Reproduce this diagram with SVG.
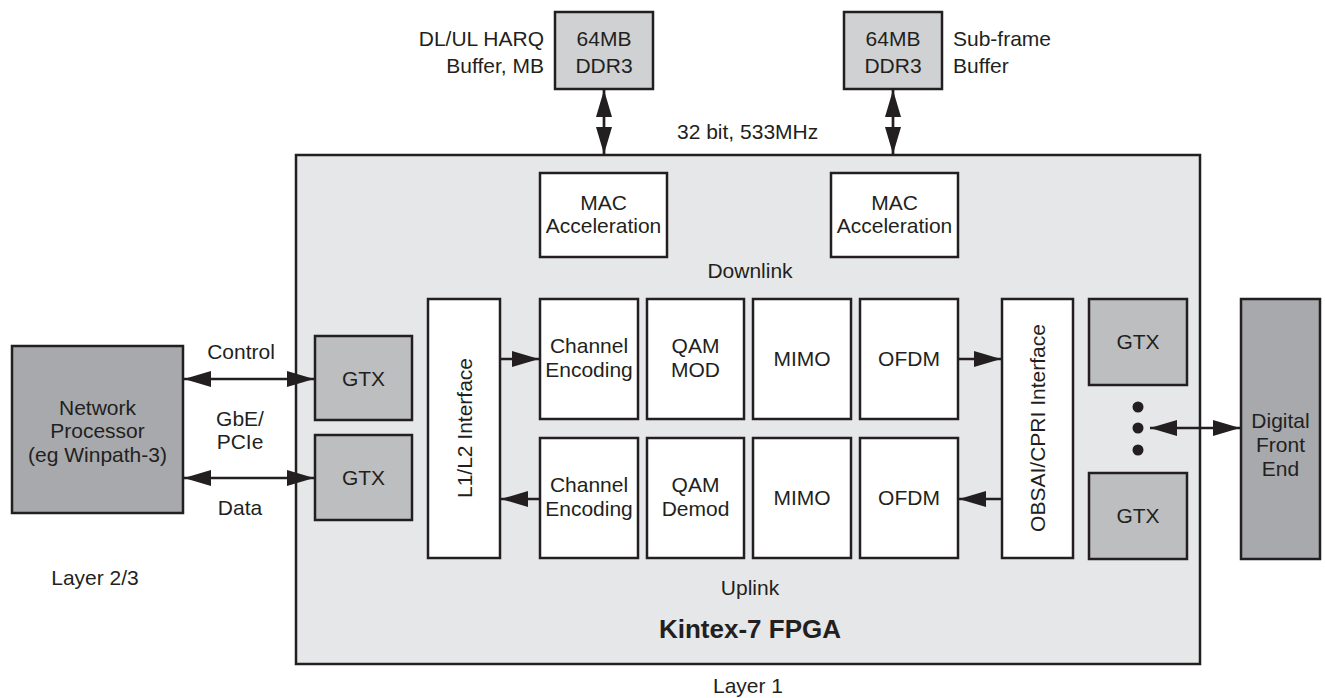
<svg xmlns="http://www.w3.org/2000/svg" width="1325" height="698" viewBox="0 0 1325 698">
<style>
text{font-family:"Liberation Sans",Arial,sans-serif;font-size:21px;fill:#231f20}
.c{text-anchor:middle}
.r{text-anchor:end}
.box{stroke:#231f20;stroke-width:2.5}
.w{fill:#ffffff}
.g1{fill:#bcbec0}
.g2{fill:#a7a9ac}
.g3{fill:#cfd1d3}
.fp{fill:#e6e7e8}
.ln{stroke:#231f20;stroke-width:2.7;fill:none}
</style>
<defs>
<marker id="ah" markerUnits="userSpaceOnUse" markerWidth="27" markerHeight="16" refX="27" refY="8" orient="auto-start-reverse" viewBox="0 0 27 16">
<path d="M0,0 L27,8 L0,16 z" fill="#231f20"/>
</marker>
</defs>
<rect width="1325" height="698" fill="#ffffff"/>

<g id="fpga">
<rect class="box fp" x="296" y="155" width="904" height="509"/>
<text class="c" x="750" y="278">Downlink</text>
<text class="c" x="750" y="595">Uplink</text>
<text class="c" x="750" y="638" style="font-weight:bold;font-size:26px">Kintex-7 FPGA</text>
</g>

<g id="ddr-left">
<rect class="box g3" x="555" y="12" width="98" height="77"/>
<text class="c" x="604" y="46">64MB</text>
<text class="c" x="604" y="73">DDR3</text>
<text class="r" x="544" y="46">DL/UL HARQ</text>
<text class="r" x="544" y="73">Buffer, MB</text>
</g>
<g id="ddr-right">
<rect class="box g3" x="844" y="12" width="98" height="77"/>
<text class="c" x="893" y="46">64MB</text>
<text class="c" x="893" y="73">DDR3</text>
<text x="953" y="46">Sub-frame</text>
<text x="953" y="73">Buffer</text>
</g>
<text id="bus-label" x="677" y="139">32 bit, 533MHz</text>

<g id="mac-left">
<rect class="box w" x="540" y="173" width="127" height="84"/>
<text class="c" x="603.5" y="210">MAC</text>
<text class="c" x="603.5" y="233">Acceleration</text>
</g>
<g id="mac-right">
<rect class="box w" x="831" y="173" width="127" height="84"/>
<text class="c" x="894.5" y="210">MAC</text>
<text class="c" x="894.5" y="233">Acceleration</text>
</g>

<g id="network-processor">
<rect class="box g2" x="12" y="346" width="171" height="167"/>
<text class="c" x="97.5" y="415">Network</text>
<text class="c" x="97.5" y="438">Processor</text>
<text class="c" x="97.5" y="462">(eg Winpath-3)</text>
<text class="c" x="95" y="585">Layer 2/3</text>
</g>

<g id="gtx-left-top">
<rect class="box g1" x="315" y="336" width="97" height="84"/>
<text class="c" x="363.5" y="386">GTX</text>
</g>
<g id="gtx-left-bottom">
<rect class="box g1" x="315" y="435" width="97" height="85"/>
<text class="c" x="363.5" y="485">GTX</text>
</g>

<g id="l1l2">
<rect class="box w" x="428" y="299" width="72" height="259"/>
<text class="c" transform="translate(464,428) rotate(-90)" x="0" y="7.5">L1/L2 Interface</text>
</g>

<g id="chenc-dl">
<rect class="box w" x="540" y="299" width="98" height="120"/>
<text class="c" x="589" y="353">Channel</text>
<text class="c" x="589" y="377">Encoding</text>
</g>
<g id="qam-mod">
<rect class="box w" x="647" y="299" width="97" height="120"/>
<text class="c" x="695.5" y="353">QAM</text>
<text class="c" x="695.5" y="377">MOD</text>
</g>
<g id="mimo-dl">
<rect class="box w" x="753" y="299" width="98" height="120"/>
<text class="c" x="802" y="366">MIMO</text>
</g>
<g id="ofdm-dl">
<rect class="box w" x="860" y="299" width="98" height="120"/>
<text class="c" x="909" y="366">OFDM</text>
</g>

<g id="chenc-ul">
<rect class="box w" x="540" y="438" width="98" height="120"/>
<text class="c" x="589" y="492">Channel</text>
<text class="c" x="589" y="516">Encoding</text>
</g>
<g id="qam-demod">
<rect class="box w" x="647" y="438" width="97" height="120"/>
<text class="c" x="695.5" y="492">QAM</text>
<text class="c" x="695.5" y="516">Demod</text>
</g>
<g id="mimo-ul">
<rect class="box w" x="753" y="438" width="98" height="120"/>
<text class="c" x="802" y="505">MIMO</text>
</g>
<g id="ofdm-ul">
<rect class="box w" x="860" y="438" width="98" height="120"/>
<text class="c" x="909" y="505">OFDM</text>
</g>

<g id="obsai">
<rect class="box w" x="1002" y="299" width="71" height="259"/>
<text class="c" transform="translate(1037.5,428) rotate(-90)" x="0" y="7.5">OBSAI/CPRI Interface</text>
</g>

<g id="gtx-right-top">
<rect class="box g1" x="1089" y="299" width="98" height="86"/>
<text class="c" x="1138" y="349">GTX</text>
</g>
<g id="gtx-right-bottom">
<rect class="box g1" x="1089" y="473" width="98" height="86"/>
<text class="c" x="1138" y="523">GTX</text>
</g>
<g id="dots">
<circle cx="1138" cy="407" r="5.5" fill="#231f20"/>
<circle cx="1138" cy="428" r="5.5" fill="#231f20"/>
<circle cx="1138" cy="450" r="5.5" fill="#231f20"/>
</g>

<g id="dfe">
<rect class="box g2" x="1241" y="299" width="79" height="260"/>
<text class="c" x="1280.5" y="428">Digital</text>
<text class="c" x="1280.5" y="452">Front</text>
<text class="c" x="1280.5" y="476">End</text>
</g>

<g id="connector-labels">
<text class="c" x="241" y="359">Control</text>
<text class="c" x="240" y="426">GbE/</text>
<text class="c" x="240" y="449">PCIe</text>
<text class="c" x="240" y="515">Data</text>
<text class="c" x="748" y="693">Layer 1</text>
</g>

<g id="connectors">
<line class="ln" x1="604" y1="90" x2="604" y2="154" marker-start="url(#ah)" marker-end="url(#ah)"/>
<line class="ln" x1="893" y1="90" x2="893" y2="154" marker-start="url(#ah)" marker-end="url(#ah)"/>
<line class="ln" x1="184" y1="379" x2="314" y2="379" marker-start="url(#ah)" marker-end="url(#ah)"/>
<line class="ln" x1="184" y1="478" x2="314" y2="478" marker-start="url(#ah)" marker-end="url(#ah)"/>
<line class="ln" x1="501" y1="359" x2="539" y2="359" marker-end="url(#ah)"/>
<line class="ln" x1="539" y1="499" x2="501" y2="499" marker-end="url(#ah)"/>
<line class="ln" x1="959" y1="359" x2="1001" y2="359" marker-end="url(#ah)"/>
<line class="ln" x1="1001" y1="499" x2="959" y2="499" marker-end="url(#ah)"/>
<line class="ln" x1="1150" y1="428" x2="1240" y2="428" marker-start="url(#ah)" marker-end="url(#ah)"/>
</g>
</svg>
